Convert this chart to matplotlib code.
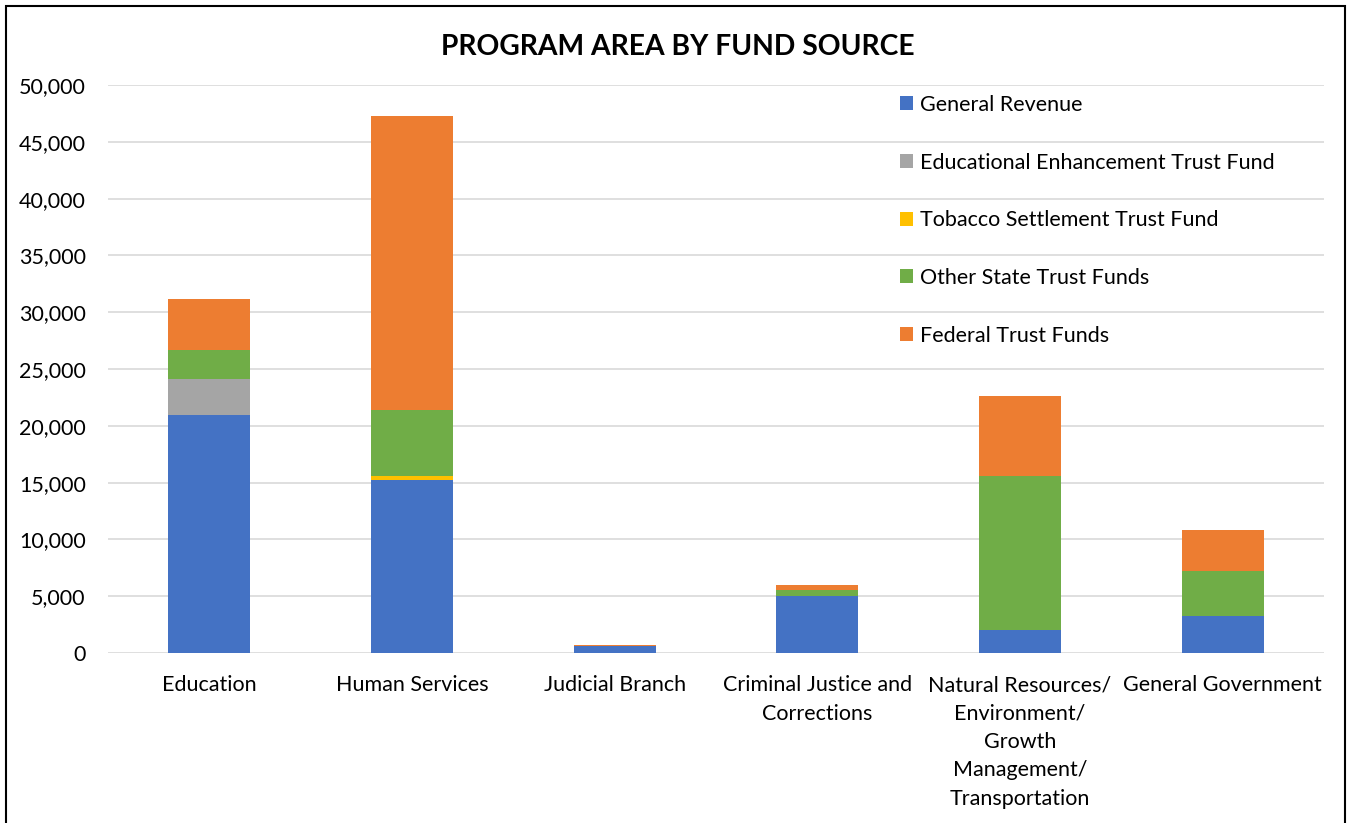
import matplotlib
matplotlib.use("Agg")
import matplotlib.pyplot as plt
from matplotlib.patches import Rectangle
from matplotlib.ticker import FuncFormatter
import numpy as np

plt.rcParams['font.family'] = ['Lato', 'DejaVu Sans']

categories = ["Education", "Human Services", "Judicial Branch",
              "Criminal Justice and\nCorrections",
              "Natural Resources/\nEnvironment/\nGrowth\nManagement/\nTransportation",
              "General Government"]
series_names = ["General Revenue", "Educational Enhancement Trust Fund",
                "Tobacco Settlement Trust Fund", "Other State Trust Funds",
                "Federal Trust Funds"]
general_revenue = [20930, 15220, 590, 4980, 2030, 3290]
edu_enhancement = [3220, 0, 0, 0, 0, 0]
tobacco = [0, 400, 0, 0, 0, 0]
other_state = [2490, 5810, 60, 590, 13560, 3940]
federal = [4490, 25850, 50, 410, 7030, 3590]
colors = ["#4472C4", "#A5A5A5", "#FFC000", "#70AD47", "#ED7D31"]

fig = plt.figure(figsize=(13.5, 8.23), dpi=100)
ax = fig.add_axes([108/1350, 1-653/823, (1324-108)/1350, (653-85)/823])

x = np.arange(len(categories))
bottom = np.zeros(len(categories))
for name, vals, c in zip(series_names,
                         [general_revenue, edu_enhancement, tobacco, other_state, federal],
                         colors):
    vals = np.array(vals, dtype=float)
    ax.bar(x, vals, width=0.405, bottom=bottom, color=c, label=name, zorder=3)
    bottom += vals

ax.set_xlim(-0.5, len(categories) - 0.5)
ax.set_ylim(0, 50000)
ax.set_yticks(np.arange(0, 50001, 5000))
ax.yaxis.set_major_formatter(FuncFormatter(lambda v, p: f"{int(v):,}"))
ax.set_xticks(x)
ax.set_xticklabels(categories, fontsize=15.5, linespacing=1.52)
ax.tick_params(axis='both', length=0, labelsize=15.5, colors='#000000')
ax.tick_params(axis='y', pad=16)
ax.tick_params(axis='x', pad=16)
ax.grid(axis='y', color='#d9d9d9', linewidth=1.2, zorder=0)
for s in ax.spines.values():
    s.set_visible(False)

fig.text(678/1350, 1-47/823, "PROGRAM AREA BY FUND SOURCE", ha='center', va='center',
         fontsize=20.3, fontweight='bold')

leg = ax.legend(loc='upper left', bbox_to_anchor=(900/1350, 1-95/823),
                bbox_transform=fig.transFigure, frameon=False, fontsize=15.5,
                handlelength=0.62, handleheight=0.62, handletextpad=0.3,
                labelspacing=1.75, borderaxespad=0, borderpad=0)

fig.patches.append(Rectangle((6/1350, -0.05), (1345-6)/1350, 1.05 - 6/823,
                             transform=fig.transFigure, fill=False,
                             edgecolor='black', linewidth=1.5))

fig.savefig("out.png", dpi=100)
